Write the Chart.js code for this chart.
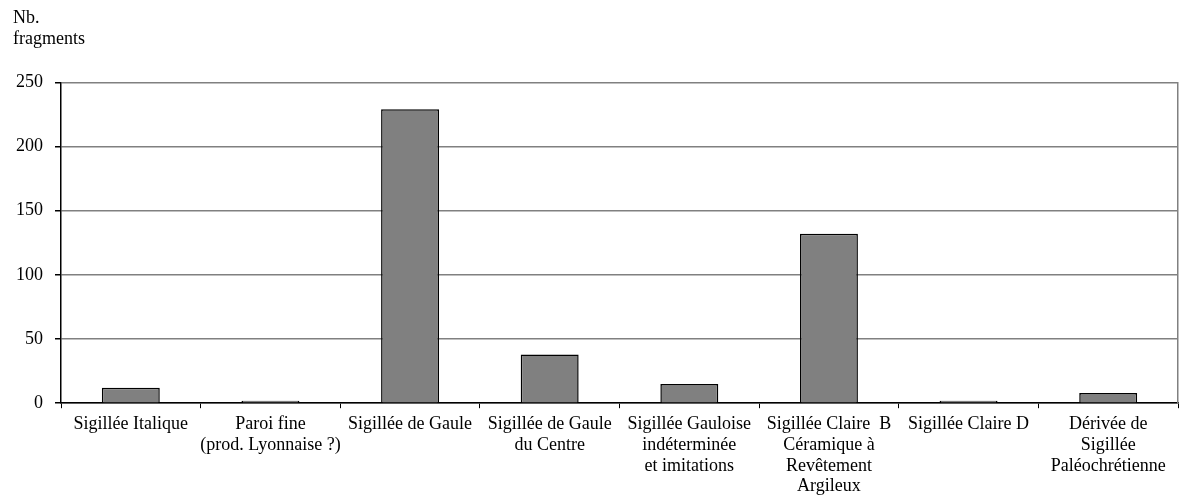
<!DOCTYPE html>
<html>
<head>
<meta charset="utf-8">
<script src="https://cdn.jsdelivr.net/npm/chart.js@4"></script>
<style>
  html, body { margin: 0; padding: 0; background: #fff; }
  #wrap { width: 1181px; height: 504px; }
</style>
</head>
<body>
<div id="wrap"><canvas id="c" width="1181" height="504"></canvas></div>
<script>
  // data
  const categories = [
    'Sigillée Italique',
    ['Paroi fine', '(prod. Lyonnaise ?)'],
    'Sigillée de Gaule',
    ['Sigillée de Gaule', 'du Centre'],
    ['Sigillée Gauloise', 'indéterminée', 'et imitations'],
    ['Sigillée Claire  B', 'Céramique à', 'Revêtement', 'Argileux'],
    'Sigillée Claire D',
    ['Dérivée de', 'Sigillée', 'Paléochrétienne']
  ];
  const fragments = [12, 2, 229, 38, 15, 132, 2, 8];
  const yTitle = ['Nb.', 'fragments'];

  const FONT = "'Liberation Serif', 'Times New Roman', serif";

  new Chart(document.getElementById('c'), {
    type: 'bar',
    data: {
      labels: categories,
      datasets: [{
        data: fragments,
        backgroundColor: '#808080',
        borderColor: '#000',
        borderWidth: 1.5,
        barPercentage: 0.415,
        categoryPercentage: 1
      }]
    },
    options: {
      responsive: false,
      animation: false,
      layout: { padding: { left: 13, right: 3, top: 8, bottom: 1 } },
      plugins: {
        legend: { display: false },
        tooltip: { enabled: false },
        title: {
          display: true,
          text: yTitle,
          align: 'start',
          color: '#000',
          font: { family: FONT, size: 18, weight: 'normal', lineHeight: 1.15 },
          padding: { top: 0, bottom: 33 }
        }
      },
      scales: {
        x: {
          grid: { offset: true, drawOnChartArea: false, drawTicks: true, tickLength: 5, color: '#000' },
          border: { color: '#000', width: 1.5 },
          ticks: {
            autoSkip: false, maxRotation: 0, minRotation: 0, padding: 6,
            color: '#000',
            font: { family: FONT, size: 18, lineHeight: 1.15 }
          }
        },
        y: {
          min: 0, max: 250,
          afterFit: s => { s.width = 48; },
          grid: { color: '#808080', lineWidth: 1.5, tickLength: 6, tickColor: '#000' },
          border: { color: '#000', width: 1.5 },
          ticks: {
            stepSize: 50, padding: 12, color: '#000',
            font: { family: FONT, size: 18 }
          }
        },
        yRight: {
          position: 'right',
          min: 0, max: 250,
          grid: { display: false, drawTicks: false },
          border: { color: '#808080', width: 1.5 },
          ticks: { display: false }
        }
      }
    }
  });
</script>
</body>
</html>
